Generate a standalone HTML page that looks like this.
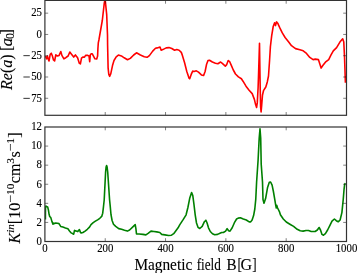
<!DOCTYPE html>
<html><head><meta charset="utf-8"><style>
html,body{margin:0;padding:0;background:#fff;}
svg{display:block;will-change:transform;}
.w{width:357px;height:273px;}
text{font-family:"Liberation Serif",serif;}
</style></head><body>
<div class="w"><svg width="357" height="273" viewBox="0 0 357 273">
<rect width="357" height="273" fill="#fff"/>
<defs>
<clipPath id="ct"><rect x="44.9" y="0.4" width="301.6" height="114.89999999999999"/></clipPath>
<clipPath id="cb"><rect x="44.9" y="127.0" width="301.6" height="114.5"/></clipPath>
</defs>
<path d="M45.3,56.0 L46.5,58.8 L47.4,56.0 L48.3,59.4 L49.0,61.0 L50.2,54.3 L51.3,53.2 L52.4,56.0 L53.5,60.0 L54.6,61.0 L55.8,54.9 L57.4,56.0 L59.1,55.4 L60.8,51.5 L61.9,55.4 L63.9,58.8 L65.8,57.7 L68.1,56.0 L69.8,52.1 L71.5,54.3 L73.7,57.1 L75.4,54.9 L77.6,57.7 L79.3,63.3 L80.4,63.8 L81.5,58.2 L82.8,57.1 L84.5,57.1 L85.6,55.4 L87.8,55.4 L89.0,56.0 L89.7,61.6 L90.3,54.9 L91.2,53.8 L92.3,53.8 L93.5,56.1 L94.9,58.8 L96.7,59.0 L97.6,56.1 L97.9,48.8 L98.3,42.9 L98.9,40.0 L102.3,20.5 L104.3,2.9 L105.1,-1.0 L106.7,14.7 L107.5,35.0 L107.6,45.0 L108.1,67.8 L108.8,74.4 L109.6,76.3 L110.8,73.7 L112.5,65.6 L114.0,60.5 L116.2,56.8 L118.4,55.1 L121.4,55.9 L124.2,57.8 L127.5,59.8 L130.3,58.4 L133.7,55.0 L136.5,52.8 L140.4,55.0 L144.3,56.7 L147.1,57.3 L149.4,55.6 L152.7,51.1 L155.5,48.3 L157.2,47.9 L160.0,47.0 L161.2,50.2 L162.8,49.6 L166.2,47.9 L169.0,47.6 L171.8,48.5 L174.6,50.2 L176.8,49.6 L179.1,50.2 L181.3,52.4 L182.4,55.4 L184.6,62.7 L186.8,71.5 L189.0,78.1 L189.7,78.8 L191.2,74.4 L192.7,71.1 L194.1,71.5 L196.3,70.8 L198.5,72.2 L201.4,74.9 L203.6,75.5 L205.1,71.5 L206.6,64.2 L208.0,60.5 L209.5,60.2 L212.4,62.0 L215.4,63.2 L217.9,63.7 L220.6,62.0 L222.3,63.4 L225.3,66.1 L226.7,64.6 L228.2,60.5 L229.7,61.7 L231.1,64.9 L233.3,70.0 L235.5,74.0 L238.4,76.9 L241.4,78.8 L243.0,81.2 L246.0,86.2 L249.1,90.2 L252.2,93.6 L254.4,99.4 L255.6,104.6 L256.6,107.5 L257.3,102.4 L258.1,87.7 L258.5,76.0 L259.5,43.3 L260.0,76.0 L260.3,93.6 L260.6,106.8 L261.1,111.9 L261.7,105.3 L262.5,95.0 L263.5,90.7 L265.8,87.0 L267.3,81.9 L268.5,76.0 L269.6,60.0 L270.4,46.6 L271.7,35.6 L273.2,26.5 L274.6,22.8 L275.5,25.6 L276.5,21.9 L277.7,23.2 L279.6,27.4 L282.3,32.9 L285.1,37.5 L288.7,42.0 L291.5,45.7 L295.5,48.6 L299.9,49.7 L303.2,50.8 L306.5,53.4 L309.8,57.4 L313.1,59.6 L315.3,59.1 L318.4,59.6 L320.0,64.5 L321.1,68.1 L322.8,65.5 L325.4,62.2 L328.7,59.6 L330.9,55.2 L333.3,50.9 L336.6,47.6 L339.9,42.1 L342.7,38.8 L343.8,42.1 L344.5,56.4 L345.4,82.7" fill="none" stroke="#ff0000" stroke-width="1.6" stroke-linejoin="round" clip-path="url(#ct)"/>
<path d="M45.4,219.5 L45.5,206.6 L45.8,206.0 L46.9,206.8 L47.7,207.1 L48.4,209.9 L49.1,214.3 L49.7,216.5 L50.8,217.6 L51.9,221.4 L53.0,224.2 L53.9,223.1 L54.6,223.6 L55.7,223.1 L57.4,223.3 L59.0,223.6 L60.7,226.4 L62.9,227.1 L65.4,228.0 L67.9,228.8 L69.5,230.9 L71.2,232.9 L73.7,234.2 L74.5,230.4 L76.1,230.9 L77.8,231.6 L79.4,229.6 L80.6,232.6 L81.2,233.0 L82.9,232.5 L85.1,231.1 L87.3,229.3 L89.5,227.1 L91.0,224.6 L93.2,222.7 L95.4,221.2 L97.6,219.8 L99.8,218.3 L101.7,216.4 L102.7,213.2 L103.4,207.3 L104.2,200.0 L105.6,172.0 L106.1,167.0 L106.6,165.6 L107.1,167.0 L107.7,172.0 L109.6,200.0 L110.2,205.9 L111.0,214.7 L112.1,220.5 L113.5,224.2 L115.7,226.4 L118.7,228.6 L121.6,229.3 L124.5,230.3 L127.4,231.1 L129.6,230.0 L132.6,227.1 L135.2,224.6 L135.9,228.6 L136.5,234.0 L139.2,234.0 L142.9,234.4 L145.9,234.9 L148.1,233.4 L151.0,231.1 L153.9,231.5 L156.8,231.9 L159.8,232.5 L161.7,234.4 L164.9,234.9 L168.6,235.5 L171.5,235.2 L173.7,233.7 L175.9,230.8 L178.1,227.8 L179.7,224.9 L183.3,219.4 L186.1,214.8 L187.9,207.5 L189.7,198.3 L191.6,192.5 L192.8,195.6 L193.9,203.8 L195.2,214.8 L196.5,223.0 L198.0,227.3 L199.8,228.5 L202.2,226.4 L204.4,221.7 L205.9,220.2 L207.0,222.7 L208.5,227.8 L210.3,231.5 L212.5,233.7 L214.7,234.7 L217.6,234.4 L220.5,233.0 L221.7,232.5 L223.4,232.5 L225.6,231.1 L227.1,228.6 L228.6,230.8 L230.0,231.1 L232.2,227.8 L234.4,222.7 L236.6,219.0 L238.2,218.1 L240.4,217.8 L243.3,219.0 L246.3,220.0 L249.2,221.9 L250.7,221.9 L252.1,220.0 L253.6,215.6 L254.8,209.0 L255.8,198.8 L256.6,182.0 L258.1,160.0 L259.2,138.0 L260.0,128.9 L260.7,138.0 L261.2,164.0 L262.5,182.0 L263.0,199.5 L264.0,203.2 L265.6,198.6 L267.5,187.8 L269.3,182.3 L270.6,182.0 L272.1,185.1 L273.4,191.5 L274.8,199.7 L275.7,205.2 L276.3,208.0 L276.7,205.2 L277.6,208.0 L279.4,211.6 L280.4,214.7 L283.3,219.0 L286.3,222.0 L289.9,224.2 L293.6,226.4 L297.2,229.3 L300.2,230.8 L303.1,231.1 L306.0,230.5 L308.5,230.5 L311.2,231.5 L313.5,231.5 L315.1,231.5 L317.3,230.0 L319.1,227.5 L320.5,230.0 L322.0,234.4 L323.5,235.2 L325.4,233.7 L327.6,230.0 L329.8,225.6 L332.0,221.2 L334.4,219.0 L336.3,220.7 L338.2,221.8 L340.1,220.0 L341.9,212.6 L343.2,199.8 L344.1,188.8 L344.7,184.2 L345.4,183.3" fill="none" stroke="#008000" stroke-width="1.6" stroke-linejoin="round" clip-path="url(#cb)"/>
<path d="M105.22,115.30v-3.3M105.22,0.40v3.3M105.22,241.50v-3.3M105.22,127.00v3.3M165.54,115.30v-3.3M165.54,0.40v3.3M165.54,241.50v-3.3M165.54,127.00v3.3M225.86,115.30v-3.3M225.86,0.40v3.3M225.86,241.50v-3.3M225.86,127.00v3.3M286.18,115.30v-3.3M286.18,0.40v3.3M286.18,241.50v-3.3M286.18,127.00v3.3M44.90,13.17h3.3M346.50,13.17h-3.3M44.90,34.44h3.3M346.50,34.44h-3.3M44.90,55.72h3.3M346.50,55.72h-3.3M44.90,77.00h3.3M346.50,77.00h-3.3M44.90,98.28h3.3M346.50,98.28h-3.3M44.90,222.42h3.3M346.50,222.42h-3.3M44.90,203.33h3.3M346.50,203.33h-3.3M44.90,184.25h3.3M346.50,184.25h-3.3M44.90,165.17h3.3M346.50,165.17h-3.3M44.90,146.08h3.3M346.50,146.08h-3.3" fill="none" stroke="#000" stroke-width="0.5"/>
<g fill="none" stroke="#333" stroke-width="1.2">
<rect x="44.9" y="0.4" width="301.6" height="114.89999999999999"/>
<rect x="44.9" y="127.0" width="301.6" height="114.5"/>
</g>
<g font-size="12" fill="#000" stroke="#000" stroke-width="0.12">
<text transform="translate(42.0,16.47) scale(0.9,1)" text-anchor="end">25</text><text transform="translate(42.0,37.74) scale(0.9,1)" text-anchor="end">0</text><text transform="translate(42.0,59.02) scale(0.9,1)" text-anchor="end">25</text><rect x="23.4" y="55.32" width="6.4" height="0.8" stroke="none"/><text transform="translate(42.0,80.30) scale(0.9,1)" text-anchor="end">50</text><rect x="23.4" y="76.60" width="6.4" height="0.8" stroke="none"/><text transform="translate(42.0,101.58) scale(0.9,1)" text-anchor="end">75</text><rect x="23.4" y="97.88" width="6.4" height="0.8" stroke="none"/><text transform="translate(42.0,244.80) scale(0.9,1)" text-anchor="end">0</text><text transform="translate(42.0,225.72) scale(0.9,1)" text-anchor="end">2</text><text transform="translate(42.0,206.63) scale(0.9,1)" text-anchor="end">4</text><text transform="translate(42.0,187.55) scale(0.9,1)" text-anchor="end">6</text><text transform="translate(42.0,168.47) scale(0.9,1)" text-anchor="end">8</text><text transform="translate(42.0,149.38) scale(0.9,1)" text-anchor="end">10</text><text transform="translate(42.0,130.30) scale(0.9,1)" text-anchor="end">12</text><text transform="translate(44.90,251.7) scale(0.9,1)" text-anchor="middle">0</text><text transform="translate(105.22,251.7) scale(0.9,1)" text-anchor="middle">200</text><text transform="translate(165.54,251.7) scale(0.9,1)" text-anchor="middle">400</text><text transform="translate(225.86,251.7) scale(0.9,1)" text-anchor="middle">600</text><text transform="translate(286.18,251.7) scale(0.9,1)" text-anchor="middle">800</text><text transform="translate(346.50,251.7) scale(0.9,1)" text-anchor="middle">1000</text>
</g>
<g font-size="16" fill="#000" stroke="#000" stroke-width="0.1" lengthAdjust="spacingAndGlyphs">
<text x="134.4" y="269.8" textLength="57.8" lengthAdjust="spacingAndGlyphs">Magnetic</text>
<text x="196.7" y="269.8" textLength="24.2" lengthAdjust="spacingAndGlyphs">field</text>
<text transform="translate(226.6,269.8) scale(0.95,1)">B</text>
<text transform="translate(237.6,269.8) scale(0.75,1)" font-size="17.5">[</text>
<text x="240.6" y="269.8">G</text>
<text transform="translate(252.2,269.8) scale(0.75,1)" font-size="17.5">]</text>
</g>
<g transform="translate(12.1,89.9) rotate(-90)" font-size="16" fill="#000" stroke="#000" stroke-width="0.1">
<text x="0" y="0"><tspan font-style="italic">Re</tspan>(<tspan font-style="italic">a</tspan>)</text>
<text x="38.9" y="0">[</text>
<text x="43.6" y="0" font-style="italic" font-size="16.5">a</text>
<text x="50.9" y="1.6" font-size="12">0</text>
<text x="55.5" y="0">]</text>
</g>
<g transform="translate(19.8,243.5) rotate(-90)" font-size="16" fill="#000" stroke="#000" stroke-width="0.1">
<text x="0" y="0"><tspan font-style="italic">K</tspan><tspan font-style="italic" font-size="11.2" dy="-6">in</tspan><tspan dy="6">[10</tspan><tspan font-size="11.2" dy="-6" textLength="7.6" lengthAdjust="spacingAndGlyphs">−</tspan><tspan font-size="11.2" dx="0.3">10</tspan><tspan dy="6" dx="0.5">cm</tspan><tspan font-size="11.2" dy="-6">3</tspan><tspan dy="6" dx="0.5">s</tspan><tspan font-size="11.2" dy="-6" textLength="7.6" lengthAdjust="spacingAndGlyphs">−</tspan><tspan font-size="11.2">1</tspan><tspan dy="6" dx="0.5">]</tspan></text>
</g>
</svg></div>
</body></html>
